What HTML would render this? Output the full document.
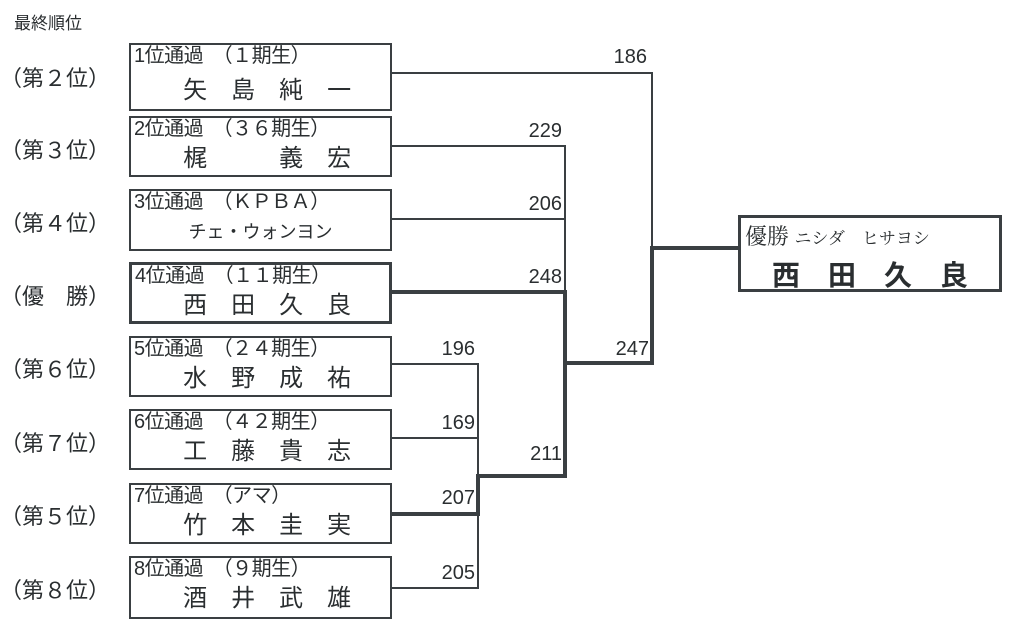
<!DOCTYPE html>
<html><head><meta charset="utf-8"><style>
body{margin:0;background:#fff;width:1016px;height:630px;overflow:hidden;font-family:"Liberation Sans","Noto Sans CJK JP",sans-serif;color:#2a2e30}
.a{position:absolute}
.box{position:absolute;left:129px;width:259px;border:2px solid #3a3f42;background:#fff}
.box.t{border-width:3px;width:257px}
.s{position:absolute;left:3px;top:0px;font-size:20px;white-space:pre;line-height:22px;letter-spacing:-0.5px}
.n{position:absolute;left:0;right:0;top:27px;font-size:24px;line-height:28px;white-space:pre;text-align:center}
.r{position:absolute;left:0px;font-size:22px;white-space:pre;font-family:"Noto Sans CJK JP",sans-serif;line-height:30px}
.num{position:absolute;font-size:20px;width:40px;text-align:right}
</style></head><body>
<div class="a" style="left:14px;top:9px;font-size:17px">最終順位</div>
<div class="r" style="top:62px">（第２位）</div>
<div class="r" style="top:134px">（第３位）</div>
<div class="r" style="top:207px">（第４位）</div>
<div class="r" style="top:280px">（優　勝）</div>
<div class="r" style="top:353px">（第６位）</div>
<div class="r" style="top:427px">（第７位）</div>
<div class="r" style="top:500px">（第５位）</div>
<div class="r" style="top:574px">（第８位）</div>

<div class="box" style="top:43px;height:64px"><div class="s">1位通過　（１期生）</div><div class="n" style="top:32px">  矢　島　純　一</div></div>
<div class="box" style="top:116px;height:57px"><div class="s">2位通過　（３６期生）</div><div class="n">  梶　　　義　宏</div></div>
<div class="box" style="top:189px;height:58px"><div class="s">3位通過　（ＫＰＢＡ）</div><div class="n" style="font-size:18px">チェ・ウォンヨン</div></div>
<div class="box t" style="top:262px;height:56px"><div class="s">4位通過　（１１期生）</div><div class="n">  西　田　久　良</div></div>
<div class="box" style="top:336px;height:57px"><div class="s">5位通過　（２４期生）</div><div class="n">  水　野　成　祐</div></div>
<div class="box" style="top:409px;height:57px"><div class="s">6位通過　（４２期生）</div><div class="n">  工　藤　貴　志</div></div>
<div class="box" style="top:483px;height:57px"><div class="s">7位通過　（アマ）</div><div class="n">  竹　本　圭　実</div></div>
<div class="box" style="top:556px;height:59px"><div class="s">8位通過　（９期生）</div><div class="n">  酒　井　武　雄</div></div>

<div class="a" style="left:738px;top:215px;width:258px;height:71px;border:3px solid #3a3f42">
<div class="a" style="left:4px;top:2px;font-size:22px;font-family:'Liberation Serif','Noto Serif CJK SC',serif;white-space:pre">優勝 <span style="font-size:17px">ニシダ　ヒサヨシ</span></div>
<div class="a" style="left:0;right:0;top:36px;text-align:center;font-size:28px;font-weight:bold;white-space:pre">西　田　久　良</div>
</div>

<svg class="a" style="left:0;top:0" width="1016" height="630" fill="none" stroke="#3a3f42">
<g stroke-width="2">
<path d="M391 73H652V248"/>
<path d="M391 146H565V292"/>
<path d="M391 219H565"/>
<path d="M565 363V476"/>
<path d="M391 364H478V476"/>
<path d="M391 438H478"/>
<path d="M391 588H478V514"/>
</g>
<g stroke-width="4">
<path d="M391 292H565V363H652V248H738"/>
<path d="M391 514H478V476H565V363"/>
</g>
</svg>
<div class="num" style="left:607px;top:46px">186</div>
<div class="num" style="left:522px;top:120px">229</div>
<div class="num" style="left:522px;top:193px">206</div>
<div class="num" style="left:522px;top:266px">248</div>
<div class="num" style="left:609px;top:338px">247</div>
<div class="num" style="left:435px;top:338px">196</div>
<div class="num" style="left:435px;top:412px">169</div>
<div class="num" style="left:522px;top:443px">211</div>
<div class="num" style="left:435px;top:487px">207</div>
<div class="num" style="left:435px;top:562px">205</div>
</body></html>
